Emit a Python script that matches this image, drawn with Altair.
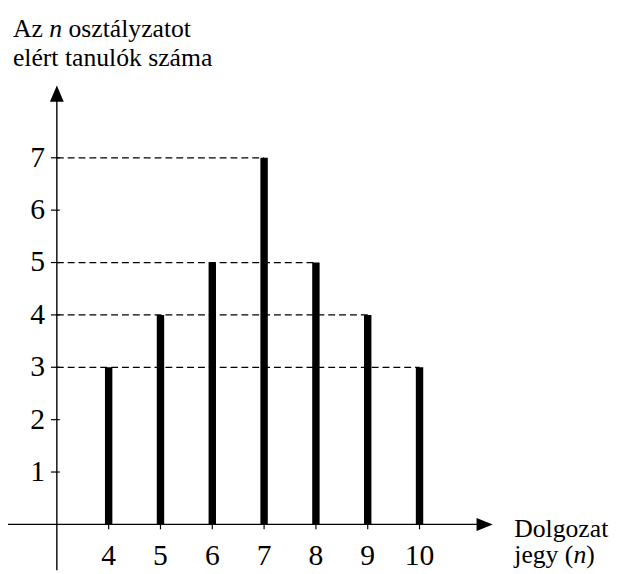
import altair as alt
import pandas as pd

# ---- data ----
grades = [4, 5, 6, 7, 8, 9, 10]
counts = [3, 4, 5, 7, 5, 4, 3]
y_tick_values = [1, 2, 3, 4, 5, 6, 7]
x_tick_labels = ["4", "5", "6", "7", "8", "9", "10"]
y_tick_labels = ["1", "2", "3", "4", "5", "6", "7"]

# ---- layout (data units / pixels) ----
W, H = 610, 566
PX_X, PX_Y = 52.5, 53.07
x_dom = [4 - 102 / PX_X, 4 - 102 / PX_X + W / PX_X]
y_top = 519.5 / PX_Y
y_dom = [y_top - H / PX_Y, y_top]
origin = 3            # the vertical axis stands at grade 3
x_axis_from, x_axis_to, x_arrow = 2.04, 11.15, 11.257
y_axis_to, y_arrow = 8.15, 8.225
ARROW_RIGHT = "M1,0L-1,-0.8L-1,0.8Z"
ARROW_UP = "M0,-1L-0.85,1L0.85,1Z"

FONT = "Liberation Serif"
xs = alt.Scale(domain=x_dom, nice=False, zero=False)
ys = alt.Scale(domain=y_dom, nice=False, zero=False)

bars_df = pd.DataFrame({"grade": grades, "count": counts, "base": 0})
dash_df = (bars_df.groupby("count", as_index=False)["grade"].max()
           .rename(columns={"grade": "x_end"}))
dash_df["x_start"] = origin
yt_df = pd.DataFrame({"v": y_tick_values, "lab": y_tick_labels,
                      "x": origin, "xa": origin - 6 / PX_X, "xb": origin + 3 / PX_X})
xt_df = pd.DataFrame({"g": grades, "lab": x_tick_labels, "y0": 0, "y1": -5 / PX_Y})
axes_df = pd.DataFrame({
    "x": [origin, x_axis_from], "x2": [origin, x_axis_to],
    "y": [y_dom[0], 0], "y2": [y_axis_to, 0]})
arrow_df = pd.DataFrame({"x": [origin, x_arrow], "y": [y_arrow, 0],
                         "shape": [ARROW_UP, ARROW_RIGHT]})

bars = alt.Chart(bars_df).mark_rule(color="black", strokeWidth=7.5).encode(
    x=alt.X("grade:Q", scale=xs, axis=None),
    y=alt.Y("base:Q", scale=ys, axis=None),
    y2="count:Q")

dashes = alt.Chart(dash_df).mark_rule(color="black", strokeWidth=1.3,
                                      strokeDash=[7, 4]).encode(
    x=alt.X("x_start:Q", scale=xs, axis=None), x2="x_end:Q",
    y=alt.Y("count:Q", scale=ys, axis=None))

axes = alt.Chart(axes_df).mark_rule(color="black", strokeWidth=1.4).encode(
    x=alt.X("x:Q", scale=xs, axis=None), x2="x2:Q",
    y=alt.Y("y:Q", scale=ys, axis=None), y2="y2:Q")

arrows = alt.Chart(arrow_df).mark_point(filled=True, color="black", opacity=1,
                                        strokeWidth=0, size=270).encode(
    x=alt.X("x:Q", scale=xs, axis=None),
    y=alt.Y("y:Q", scale=ys, axis=None),
    shape=alt.Shape("shape:N", scale=None))

yticks = alt.Chart(yt_df).mark_rule(color="black", strokeWidth=1.2).encode(
    x=alt.X("xa:Q", scale=xs, axis=None), x2="xb:Q",
    y=alt.Y("v:Q", scale=ys, axis=None))

ylabels = alt.Chart(yt_df).mark_text(font=FONT, fontSize=30, align="right",
                                     baseline="middle", dx=-12, color="black").encode(
    x=alt.X("x:Q", scale=xs, axis=None),
    y=alt.Y("v:Q", scale=ys, axis=None), text="lab:N")

xticks = alt.Chart(xt_df).mark_rule(color="black", strokeWidth=1.2).encode(
    x=alt.X("g:Q", scale=xs, axis=None),
    y=alt.Y("y0:Q", scale=ys, axis=None), y2="y1:Q")

xlabels = alt.Chart(xt_df).mark_text(font=FONT, fontSize=30, align="center",
                                     baseline="alphabetic", dy=41, color="black").encode(
    x=alt.X("g:Q", scale=xs, axis=None),
    y=alt.Y("y0:Q", scale=ys, axis=None), text="lab:N")


def label(txt, x, y, italic=False, size=26):
    return alt.Chart(pd.DataFrame({"t": [txt]})).mark_text(
        font=FONT, fontSize=size, align="left", baseline="alphabetic",
        fontStyle="italic" if italic else "normal", color="black").encode(
        x=alt.value(x), y=alt.value(y), text="t:N")


fs = 26
sp = 0.25 * fs
w_az = (0.722 + 0.444) * fs + sp
w_n = 0.5 * fs
w_jegy = (0.278 + 0.444 + 0.5 + 0.5 + 0.25 + 0.333) * fs
titles = [
    label("Az", 5, 26),
    label("n", 5 + w_az, 26, italic=True),
    label("osztályzatot", 5 + w_az + w_n + sp, 26),
    label("elért tanulók száma", 5, 55),
    label("Dolgozat", 513, 532),
    label("jegy (", 513, 559),
    label("n", 513 + w_jegy, 559, italic=True),
    label(")", 513 + w_jegy + w_n, 559),
]

chart = alt.layer(dashes, bars, axes, arrows, yticks, ylabels, xticks, xlabels,
                  *titles).properties(
    width=W, height=H, autosize="none", padding=0
).configure_view(stroke=None)

chart.save("out.html", embed_options={"renderer": "svg", "actions": False})
